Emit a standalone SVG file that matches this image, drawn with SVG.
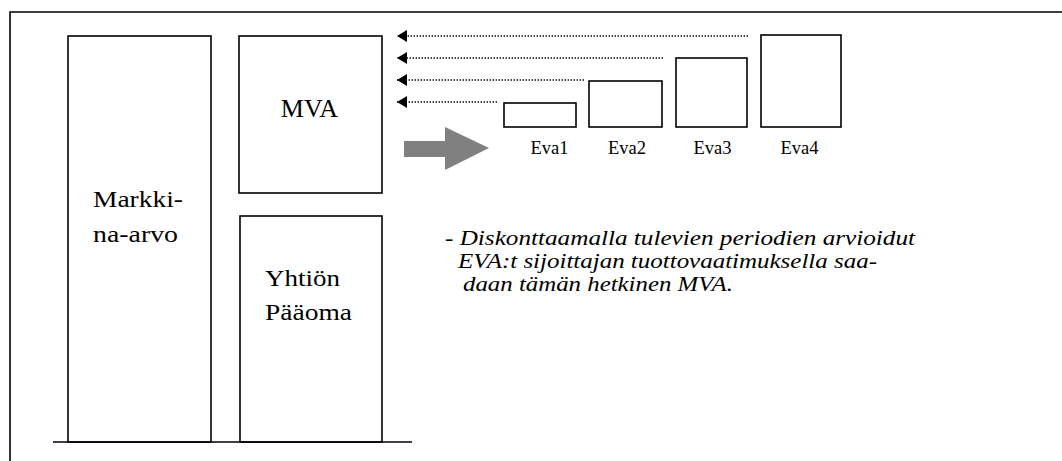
<svg xmlns="http://www.w3.org/2000/svg" width="1062" height="461" viewBox="0 0 1062 461">
<style>
.box{fill:none;stroke:#000;stroke-width:1.6}
.ln{stroke:#000;stroke-width:1.6;fill:none}
.dot{stroke:#000;stroke-width:1.3;stroke-dasharray:1.4 1.6;fill:none}
text{font-family:'Liberation Serif','DejaVu Serif',serif;fill:#000}
.it{font-style:italic;font-size:21px}
</style>
<defs>
<marker id="ah" markerWidth="10" markerHeight="12" refX="10" refY="6" orient="auto" markerUnits="userSpaceOnUse" overflow="visible">
<path d="M0,0 L10,6 L0,12 Z" fill="#000"/>
</marker>
</defs>
<rect width="1062" height="461" fill="#fff"/>
<g id="frame">
<path class="ln" d="M10,461 V12 H1062"/>
<line class="ln" x1="53" y1="442" x2="412" y2="442"/>
</g>
<g id="markkina-arvo">
<rect class="box" x="68" y="36" width="143" height="406"/>
<text x="93" y="207" font-size="24" textLength="90" lengthAdjust="spacingAndGlyphs">Markki-</text>
<text x="93" y="242" font-size="24" textLength="85" lengthAdjust="spacingAndGlyphs">na-arvo</text>
</g>
<g id="mva">
<rect class="box" x="239" y="36" width="143" height="157"/>
<text x="309.5" y="117" font-size="26" text-anchor="middle">MVA</text>
</g>
<g id="yhtion-paaoma">
<rect class="box" x="240" y="216" width="142" height="226"/>
<text x="265" y="286" font-size="24" textLength="75" lengthAdjust="spacingAndGlyphs">Yhtiön</text>
<text x="265" y="320" font-size="24" textLength="87" lengthAdjust="spacingAndGlyphs">Pääoma</text>
</g>
<g id="eva1">
<rect class="box" x="504" y="103" width="72" height="24"/>
<text x="549.5" y="154" font-size="18.5" text-anchor="middle">Eva1</text>
</g>
<g id="eva2">
<rect class="box" x="589" y="81" width="73" height="46"/>
<text x="627" y="154" font-size="18.5" text-anchor="middle">Eva2</text>
</g>
<g id="eva3">
<rect class="box" x="676" y="58" width="71" height="69"/>
<text x="712.5" y="154" font-size="18.5" text-anchor="middle">Eva3</text>
</g>
<g id="eva4">
<rect class="box" x="761" y="35" width="80" height="92"/>
<text x="799.5" y="154" font-size="18.5" text-anchor="middle">Eva4</text>
</g>
<g id="connectors">
<line class="dot" x1="748" y1="36" x2="397" y2="36" marker-end="url(#ah)"/>
<line class="dot" x1="663" y1="58" x2="397" y2="58" marker-end="url(#ah)"/>
<line class="dot" x1="584" y1="80" x2="397" y2="80" marker-end="url(#ah)"/>
<line class="dot" x1="497" y1="102" x2="397" y2="102" marker-end="url(#ah)"/>
<polygon points="404,141 445,141 445,127 489,148 445,170 445,157 404,157" fill="#808080"/>
</g>
<g id="note">
<text class="it" x="445" y="245" textLength="470" lengthAdjust="spacingAndGlyphs">- Diskonttaamalla tulevien periodien arvioidut</text>
<text class="it" x="458" y="268" textLength="419" lengthAdjust="spacingAndGlyphs">EVA:t sijoittajan tuottovaatimuksella saa-</text>
<text class="it" x="463" y="291" textLength="270" lengthAdjust="spacingAndGlyphs">daan tämän hetkinen MVA.</text>
</g>
</svg>
